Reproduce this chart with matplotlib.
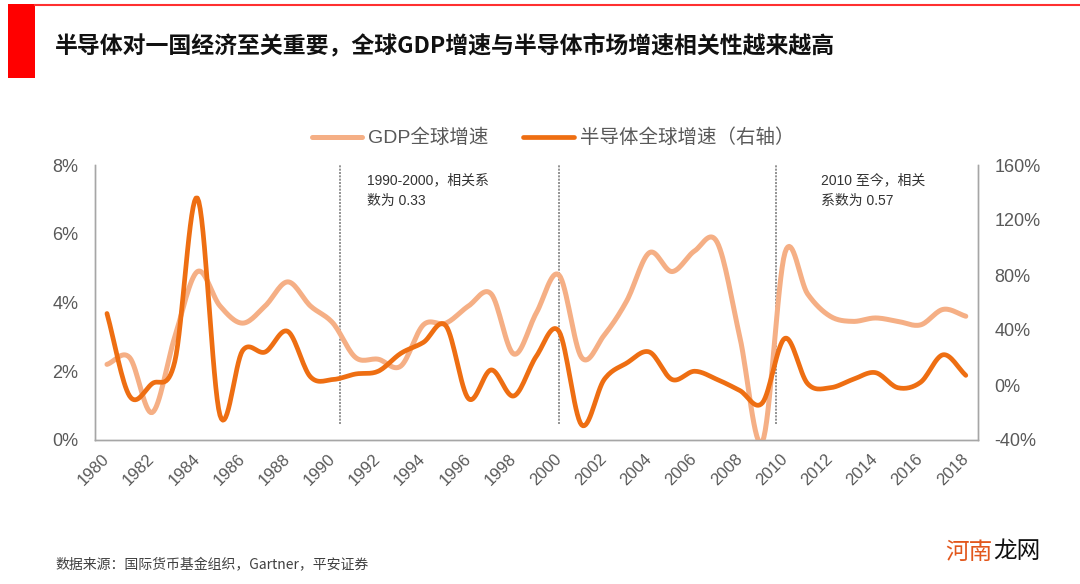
import numpy as np
import matplotlib
matplotlib.use("Agg")
from matplotlib import pyplot as plt
from matplotlib.lines import Line2D
from matplotlib.patches import Rectangle
from matplotlib.ticker import FuncFormatter

plt.rcParams['font.family'] = ['Liberation Sans', 'Noto Sans CJK SC', 'DejaVu Sans']

years = list(range(1980, 2019))
gdp_growth = [2.2, 2.4, 0.8, 3.0, 4.9, 3.9, 3.4, 3.9, 4.6, 3.9,
              3.4, 2.4, 2.35, 2.15, 3.35, 3.4, 3.9, 4.25, 2.5, 3.7,
              4.8, 2.4, 3.05, 4.05, 5.45, 4.9, 5.5, 5.75, 3.0, -0.05,
              5.45, 4.25, 3.6, 3.45, 3.55, 3.45, 3.35, 3.8, 3.6]
semi_growth = [52, -8, 1, 17, 136, -22, 25, 24, 39, 6,
               4, 8, 10, 23, 31, 43, -10, 11, -8, 21,
               39, -29, 4, 16, 24, 4, 10, 4, -4, -13,
               34, 1, -2, 4, 9, -2, 2, 22, 7]
divider_years = [1990.3, 2000.0, 2009.6]
notes = ["1990-2000，相关系\n数为 0.33", "2010 至今，相关\n系数为 0.57"]
note_years = [1991.5, 2011.6]
left_ticks = [0, 2, 4, 6, 8]
right_ticks = [-40, 0, 40, 80, 120, 160]
x_ticks = list(range(1980, 2019, 2))

light = '#F5AF85'
dark = '#EE6E12'
grey_text = '#595959'
spine_col = '#A6A6A6'


def smooth(x, y, n=16):
    # Catmull-Rom style curve through the yearly points, like Excel "smooth line"
    x = np.asarray(x, float)
    y = np.asarray(y, float)
    px = np.concatenate([[2 * x[0] - x[1]], x, [2 * x[-1] - x[-2]]])
    py = np.concatenate([[2 * y[0] - y[1]], y, [2 * y[-1] - y[-2]]])
    xs, ys = [], []
    t = np.linspace(0, 1, n, endpoint=False)
    for i in range(1, len(px) - 2):
        p0, p1, p2, p3 = py[i - 1], py[i], py[i + 1], py[i + 2]
        q0, q1, q2, q3 = px[i - 1], px[i], px[i + 1], px[i + 2]
        for arr, a0, a1, a2, a3 in ((ys, p0, p1, p2, p3), (xs, q0, q1, q2, q3)):
            arr.extend(0.5 * ((2 * a1) + (-a0 + a2) * t
                              + (2 * a0 - 5 * a1 + 4 * a2 - a3) * t ** 2
                              + (-a0 + 3 * a1 - 3 * a2 + a3) * t ** 3))
    xs.append(x[-1])
    ys.append(y[-1])
    return np.array(xs), np.array(ys)


fig = plt.figure(figsize=(10.8, 5.84), dpi=100)

# header decoration
fig.add_artist(Rectangle((8 / 1080, 1 - 78 / 584), 27 / 1080, 74 / 584,
                         transform=fig.transFigure, color='#FF0000', lw=0))
fig.add_artist(Line2D([35 / 1080, 1], [1 - 5 / 584, 1 - 5 / 584],
                      transform=fig.transFigure, color='#FF3030', lw=1.5))
fig.text(55 / 1080, 1 - 46 / 584,
         '半导体对一国经济至关重要，全球GDP增速与半导体市场增速相关性越来越高',
         family=['Noto Sans CJK SC', 'DejaVu Sans'], fontsize=16.5,
         fontweight='bold', color='#111111', va='center', ha='left')

ax = fig.add_axes([95 / 1080, 1 - 440 / 584, 883 / 1080, 275 / 584])
ax2 = ax.twinx()

gx, gy = smooth(years, gdp_growth)
ax.plot(gx, gy, color=light, lw=3.6, solid_capstyle='round', zorder=3)
sx, sy = smooth(years, semi_growth)
ax2.plot(sx, sy, color=dark, lw=3.4, solid_capstyle='round', zorder=3)

for xv in divider_years:
    ax.axvline(xv, ymin=0.06, ymax=1.005, color='#808080', lw=1.2,
               linestyle=(0, (1.2, 0.8)), zorder=1, clip_on=False)

for txt, xv in zip(notes, note_years):
    ax.text(xv, 7.75, txt, fontsize=10, color='#333333', va='top',
            ha='left', linespacing=1.6)

ax.set_xlim(1979.47, 2018.54)
ax.set_ylim(0, 8)
ax2.set_ylim(-40, 160)
ax.set_xticks(x_ticks)
ax.set_yticks(left_ticks)
ax2.set_yticks(right_ticks)
ax.yaxis.set_major_formatter(FuncFormatter(lambda v, p: '%d%%' % v))
ax2.yaxis.set_major_formatter(FuncFormatter(lambda v, p: '%d%%' % v))

ax.tick_params(axis='y', length=0, pad=12, labelsize=13, labelcolor=grey_text)
ax2.tick_params(axis='y', length=0, pad=12, labelsize=13, labelcolor=grey_text)
ax.tick_params(axis='x', length=0, pad=12, labelsize=12, labelcolor=grey_text)
for lab in ax.get_xticklabels():
    lab.set_rotation(45)
    lab.set_ha('right')
    lab.set_va('center')
    lab.set_rotation_mode('anchor')

for a in (ax, ax2):
    a.spines['top'].set_visible(False)
    for s in ('left', 'right', 'bottom'):
        a.spines[s].set_color(spine_col)
        a.spines[s].set_linewidth(1.0)
ax.patch.set_visible(False)

handles = [Line2D([], [], color=light, lw=3.6, solid_capstyle='round'),
           Line2D([], [], color=dark, lw=3.4, solid_capstyle='round')]
fig.legend(handles, ['GDP全球增速', '半导体全球增速（右轴）'], ncol=2,
           loc='center', bbox_to_anchor=(553 / 1080, 1 - 138 / 584),
           frameon=False, fontsize=14, labelcolor=grey_text,
           handlelength=2.6, handletextpad=0.3, columnspacing=1.8)

fig.text(55 / 1080, 1 - 565 / 584, '数据来源：国际货币基金组织，Gartner，平安证券',
         family=['Noto Sans CJK SC', 'DejaVu Sans'], fontsize=10,
         color='#404040', va='center', ha='left')
fig.text(945 / 1080, 1 - 552 / 584, '河南',
         family=['Noto Sans CJK SC', 'DejaVu Sans'], fontsize=17,
         color='#E2571C', va='center', ha='left')
fig.text(993 / 1080, 1 - 552 / 584, '龙网',
         family=['Noto Sans CJK SC', 'DejaVu Sans'], fontsize=17,
         color='#111111', va='center', ha='left')

fig.savefig('out.png', dpi=100)
